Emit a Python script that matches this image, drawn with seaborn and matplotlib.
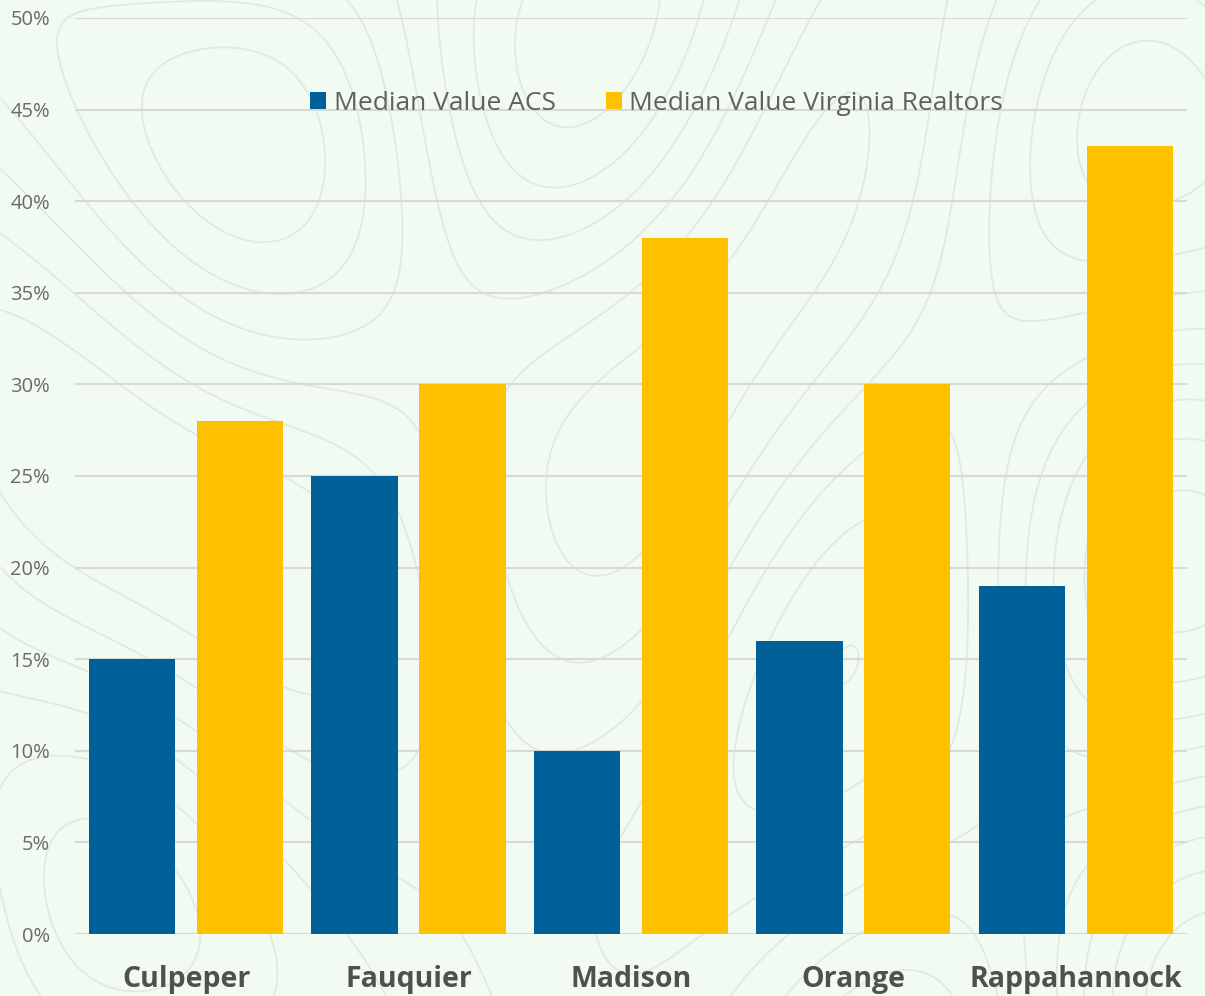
import numpy as np
import pandas as pd
import matplotlib
matplotlib.use("Agg")
import matplotlib.pyplot as plt
import seaborn as sns
from matplotlib.ticker import FuncFormatter

counties = ["Culpeper", "Fauquier", "Madison", "Orange", "Rappahannock"]
acs_values = [15, 25, 10, 16, 19]
realtors_values = [28, 30, 38, 30, 43]
series_names = ["Median Value ACS", "Median Value Virginia Realtors"]
y_ticks = list(range(0, 51, 5))

df = pd.DataFrame({
    "County": counties * 2,
    "Series": [series_names[0]] * len(counties) + [series_names[1]] * len(counties),
    "Value": acs_values + realtors_values,
})

sns.set_theme(style="white")
plt.rcParams['font.family'] = ['Open Sans', 'DejaVu Sans']

bg = "#F2FBF2"
fig = plt.figure(figsize=(12.05, 9.96), dpi=100, facecolor=bg)

# decorative faint topographic background
bgax = fig.add_axes([0, 0, 1, 1], zorder=0)
bgax.set_facecolor(bg)
gx, gy = np.meshgrid(np.linspace(0, 12, 400), np.linspace(0, 10, 340))
field = (np.sin(gx * 0.9) * np.cos(gy * 0.7) + 0.6 * np.sin(gx * 0.4 + gy * 0.8)
         + 0.4 * np.cos(gx * 1.3 - gy * 0.5))
bgax.contour(gx, gy, field, levels=9, colors="#DCE6DC", linewidths=1.3,
             linestyles="solid", alpha=0.8)
bgax.set_axis_off()

ax = fig.add_axes([0.0622, 0.0622, 0.9228, 0.9198], zorder=1)
ax.set_facecolor("none")

palette = {series_names[0]: "#006199", series_names[1]: "#FFC000"}
sns.barplot(data=df, x="County", y="Value", hue="Series", palette=palette,
            width=0.97, gap=0.2, saturation=1, linewidth=0, ax=ax, zorder=3)

ax.set_ylim(0, 50)
ax.set_yticks(y_ticks)
ax.yaxis.set_major_formatter(FuncFormatter(lambda v, p: f"{int(v)}%"))
ax.grid(axis="y", color="#D6D9D6", linewidth=1.5, zorder=0)
ax.set_axisbelow(True)
for s in ax.spines.values():
    s.set_visible(False)
ax.set_xlabel("")
ax.set_ylabel("")
ax.tick_params(axis="y", length=0, pad=18, labelsize=14.5, labelcolor="#6A6A6A")
ax.tick_params(axis="x", length=0, pad=22, labelsize=20.5, labelcolor="#505050")
for lab in ax.get_xticklabels():
    lab.set_fontweight("bold")

handles, labels = ax.get_legend_handles_labels()
ax.legend(handles, labels, loc="center", bbox_to_anchor=(0.523, 0.907), ncol=2,
          frameon=False, fontsize=19, labelcolor="#606060", handlelength=0.6,
          handleheight=0.6, handletextpad=0.3, columnspacing=1.9)

fig.savefig("out.png", dpi=100, facecolor=bg)
